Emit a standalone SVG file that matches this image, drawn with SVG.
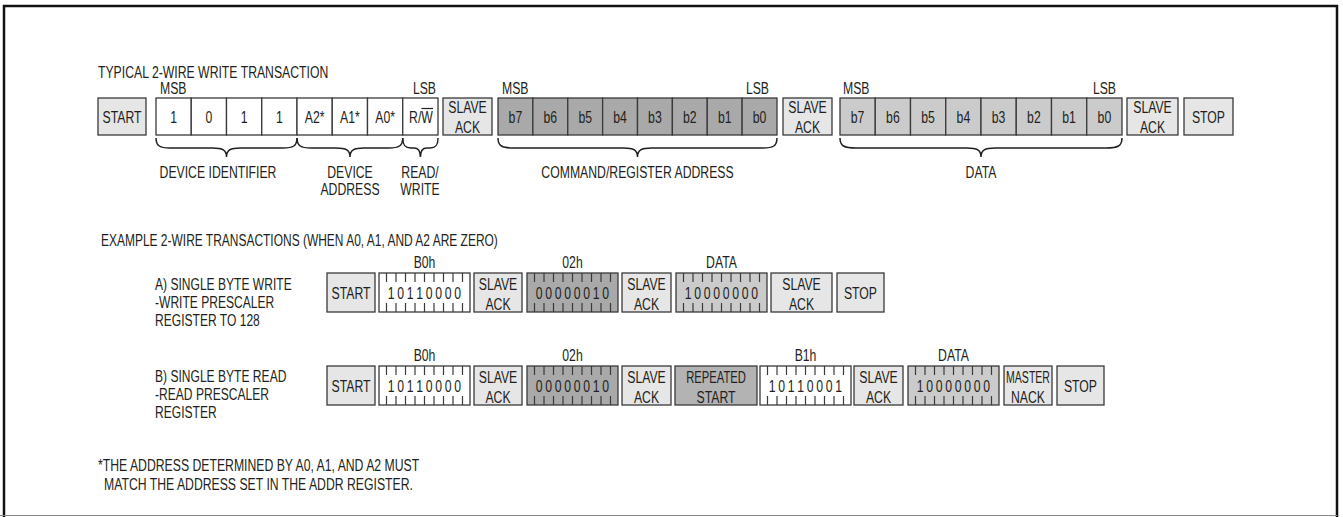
<svg xmlns="http://www.w3.org/2000/svg" xmlns:xlink="http://www.w3.org/1999/xlink" width="1343" height="517" viewBox="0 0 1343 517">
<style>
text{font-family:"Liberation Sans",Arial,sans-serif;font-size:17px;fill:#231f20}
.m{text-anchor:middle}
.e{text-anchor:end}
.b{stroke:#3a3a3a;stroke-width:1.3}
.lt{fill:#e6e6e6}
.wh{fill:#ffffff}
.dk{fill:#a9a9a9}
.md{fill:#cbcbcb}
.rp{fill:#b3b3b3}
.br{fill:none;stroke:#231f20;stroke-width:1.5}
.tk{fill:none;stroke:#3a3a3a;stroke-width:1.2}
</style>
<defs>
<path id="ticks" class="tk" d="M7.5 0v9M17 0v9M26.5 0v9M36 0v9M45.5 0v9M55 0v9M64.5 0v9M74 0v9M83.5 0v9M7.5 39v-9M17 39v-9M26.5 39v-9M36 39v-9M45.5 39v-9M55 39v-9M64.5 39v-9M74 39v-9M83.5 39v-9"/>
</defs>
<rect x="0" y="0" width="1343" height="517" fill="#ffffff"/>
<path d="M4 517V6H1337V517" fill="none" stroke="#111" stroke-width="2.5"/>
<line x1="0" y1="515.5" x2="1337" y2="515.5" stroke="#888" stroke-width="1"/>

<g id="titles">
<text transform="translate(98,78) scale(0.72,1)">TYPICAL 2-WIRE WRITE TRANSACTION</text>
<text transform="translate(101,246) scale(0.705,1)">EXAMPLE 2-WIRE TRANSACTIONS (WHEN A0, A1, AND A2 ARE ZERO)</text>
<text transform="translate(98,471) scale(0.72,1)">*THE ADDRESS DETERMINED BY A0, A1, AND A2 MUST</text>
<text transform="translate(104,490) scale(0.72,1)">MATCH THE ADDRESS SET IN THE ADDR REGISTER.</text>
</g>

<!-- Typical write transaction -->
<g id="t-start">
<rect class="b lt" x="98" y="98" width="48" height="37"/>
<text class="m" transform="translate(122,122.5) scale(0.72,1)">START</text>
</g>
<g id="t-devid">
<rect class="b wh" x="156" y="98" width="35.25" height="37"/>
<rect class="b wh" x="191.25" y="98" width="35.25" height="37"/>
<rect class="b wh" x="226.5" y="98" width="35.25" height="37"/>
<rect class="b wh" x="261.75" y="98" width="35.25" height="37"/>
<text transform="translate(160,94) scale(0.72,1)">MSB</text>
<text class="m" transform="translate(173.6,122.5) scale(0.72,1)">1</text>
<text class="m" transform="translate(208.9,122.5) scale(0.72,1)">0</text>
<text class="m" transform="translate(244.1,122.5) scale(0.72,1)">1</text>
<text class="m" transform="translate(279.4,122.5) scale(0.72,1)">1</text>
<text class="m" transform="translate(218,178) scale(0.72,1)">DEVICE IDENTIFIER</text>
</g>
<g id="t-devaddr">
<rect class="b wh" x="297" y="98" width="35.25" height="37"/>
<rect class="b wh" x="332.25" y="98" width="35.25" height="37"/>
<rect class="b wh" x="367.5" y="98" width="35.25" height="37"/>
<text class="m" transform="translate(314.6,122.5) scale(0.72,1)">A2*</text>
<text class="m" transform="translate(349.9,122.5) scale(0.72,1)">A1*</text>
<text class="m" transform="translate(385.1,122.5) scale(0.72,1)">A0*</text>
<text class="m" transform="translate(350,178) scale(0.72,1)">DEVICE</text>
<text class="m" transform="translate(350,195) scale(0.72,1)">ADDRESS</text>
</g>
<g id="t-rw">
<rect class="b wh" x="402.75" y="98" width="35.25" height="37"/>
<text class="e" transform="translate(436,94) scale(0.72,1)">LSB</text>
<text class="m" transform="translate(421,122.5) scale(0.72,1)">R/W</text>
<line x1="421.5" y1="108.5" x2="433" y2="108.5" stroke="#231f20" stroke-width="1.2"/>
<text class="m" transform="translate(420,178) scale(0.72,1)">READ/</text>
<text class="m" transform="translate(420,195) scale(0.72,1)">WRITE</text>
</g>
<g id="t-ack1">
<rect class="b lt" x="443" y="98" width="49" height="37"/>
<text class="m" transform="translate(467.5,113) scale(0.72,1)">SLAVE</text>
<text class="m" transform="translate(467.5,133) scale(0.72,1)">ACK</text>
</g>
<g id="t-cmd">
<rect class="b dk" x="498" y="98" width="34.875" height="37"/>
<rect class="b dk" x="532.875" y="98" width="34.875" height="37"/>
<rect class="b dk" x="567.75" y="98" width="34.875" height="37"/>
<rect class="b dk" x="602.625" y="98" width="34.875" height="37"/>
<rect class="b dk" x="637.5" y="98" width="34.875" height="37"/>
<rect class="b dk" x="672.375" y="98" width="34.875" height="37"/>
<rect class="b dk" x="707.25" y="98" width="34.875" height="37"/>
<rect class="b dk" x="742.125" y="98" width="34.875" height="37"/>
<text transform="translate(502,94) scale(0.72,1)">MSB</text>
<text class="e" transform="translate(769,94) scale(0.72,1)">LSB</text>
<text class="m" transform="translate(515.4,122.5) scale(0.72,1)">b7</text>
<text class="m" transform="translate(550.3,122.5) scale(0.72,1)">b6</text>
<text class="m" transform="translate(585.2,122.5) scale(0.72,1)">b5</text>
<text class="m" transform="translate(620.1,122.5) scale(0.72,1)">b4</text>
<text class="m" transform="translate(654.9,122.5) scale(0.72,1)">b3</text>
<text class="m" transform="translate(689.8,122.5) scale(0.72,1)">b2</text>
<text class="m" transform="translate(724.7,122.5) scale(0.72,1)">b1</text>
<text class="m" transform="translate(759.6,122.5) scale(0.72,1)">b0</text>
<text class="m" transform="translate(637.5,178) scale(0.72,1)">COMMAND/REGISTER ADDRESS</text>
</g>
<g id="t-ack2">
<rect class="b lt" x="783" y="98" width="49" height="37"/>
<text class="m" transform="translate(807.5,113) scale(0.72,1)">SLAVE</text>
<text class="m" transform="translate(807.5,133) scale(0.72,1)">ACK</text>
</g>
<g id="t-data">
<rect class="b md" x="840" y="98" width="35.25" height="37"/>
<rect class="b md" x="875.25" y="98" width="35.25" height="37"/>
<rect class="b md" x="910.5" y="98" width="35.25" height="37"/>
<rect class="b md" x="945.75" y="98" width="35.25" height="37"/>
<rect class="b md" x="981" y="98" width="35.25" height="37"/>
<rect class="b md" x="1016.25" y="98" width="35.25" height="37"/>
<rect class="b md" x="1051.5" y="98" width="35.25" height="37"/>
<rect class="b md" x="1086.75" y="98" width="35.25" height="37"/>
<text transform="translate(843,94) scale(0.72,1)">MSB</text>
<text class="e" transform="translate(1116,94) scale(0.72,1)">LSB</text>
<text class="m" transform="translate(857.6,122.5) scale(0.72,1)">b7</text>
<text class="m" transform="translate(892.9,122.5) scale(0.72,1)">b6</text>
<text class="m" transform="translate(928.1,122.5) scale(0.72,1)">b5</text>
<text class="m" transform="translate(963.4,122.5) scale(0.72,1)">b4</text>
<text class="m" transform="translate(998.6,122.5) scale(0.72,1)">b3</text>
<text class="m" transform="translate(1033.9,122.5) scale(0.72,1)">b2</text>
<text class="m" transform="translate(1069.1,122.5) scale(0.72,1)">b1</text>
<text class="m" transform="translate(1104.4,122.5) scale(0.72,1)">b0</text>
<text class="m" transform="translate(981,178) scale(0.72,1)">DATA</text>
</g>
<g id="t-ack3">
<rect class="b lt" x="1127" y="98" width="51" height="37"/>
<text class="m" transform="translate(1152.5,113) scale(0.72,1)">SLAVE</text>
<text class="m" transform="translate(1152.5,133) scale(0.72,1)">ACK</text>
</g>
<g id="t-stop">
<rect class="b lt" x="1184" y="98" width="49" height="37"/>
<text class="m" transform="translate(1208.5,122.5) scale(0.72,1)">STOP</text>
</g>

<g id="braces">
<path class="br" d="M156 138C156 146 160 148 170 148L212.5 148C222.5 148 226.5 150 226.5 157C226.5 150 230.5 148 240.5 148L283 148C293 148 297 146 297 138"/>
<path class="br" d="M297 138C297 146 301 148 311 148L336 148C346 148 350 150 350 157C350 150 354 148 364 148L388.75 148C398.75 148 402.75 146 402.75 138"/>
<path class="br" d="M402.75 138C402.75 145 405 148 411 148L414 148C418 148 420.4 150 420.4 157C420.4 150 422.8 148 426.8 148L430 148C436 148 438 145 438 138"/>
<path class="br" d="M498 138C498 146 502 148 514 148L623.5 148C633.5 148 637.5 150 637.5 157C637.5 150 641.5 148 651.5 148L763 148C773 148 777 146 777 138"/>
<path class="br" d="M840 138C840 146 844 148 856 148L967 148C977 148 981 150 981 157C981 150 985 148 995 148L1106 148C1118 148 1122 146 1122 138"/>
</g>

<!-- Example A -->
<g id="a-label">
<text transform="translate(155,290) scale(0.71,1)">A) SINGLE BYTE WRITE</text>
<text transform="translate(155,308) scale(0.71,1)">-WRITE PRESCALER</text>
<text transform="translate(155,326) scale(0.71,1)">REGISTER TO 128</text>
</g>
<g id="a-start">
<rect class="b lt" x="327" y="273" width="48" height="39"/>
<text class="m" transform="translate(351,298.5) scale(0.72,1)">START</text>
</g>
<g id="a-b0h">
<rect class="b wh" x="379" y="273" width="91" height="39"/>
<use xlink:href="#ticks" x="379" y="273"/>
<text class="m" transform="translate(424.5,268) scale(0.72,1)">B0h</text>
<text class="m" transform="translate(424.5,298.5) scale(0.72,1)"><tspan x="-46.18 -32.99 -19.79 -6.6 6.6 19.79 32.99 46.18">10110000</tspan></text>
</g>
<g id="a-ack1">
<rect class="b lt" x="474" y="273" width="48" height="39"/>
<text class="m" transform="translate(498,290) scale(0.72,1)">SLAVE</text>
<text class="m" transform="translate(498,310) scale(0.72,1)">ACK</text>
</g>
<g id="a-02h">
<rect class="b dk" x="527" y="273" width="91" height="39"/>
<use xlink:href="#ticks" x="527" y="273"/>
<text class="m" transform="translate(572.5,268) scale(0.72,1)">02h</text>
<text class="m" transform="translate(572.5,298.5) scale(0.72,1)"><tspan x="-46.18 -32.99 -19.79 -6.6 6.6 19.79 32.99 46.18">00000010</tspan></text>
</g>
<g id="a-ack2">
<rect class="b lt" x="622" y="273" width="49" height="39"/>
<text class="m" transform="translate(646.5,290) scale(0.72,1)">SLAVE</text>
<text class="m" transform="translate(646.5,310) scale(0.72,1)">ACK</text>
</g>
<g id="a-data">
<rect class="b md" x="676" y="273" width="91" height="39"/>
<use xlink:href="#ticks" x="676" y="273"/>
<text class="m" transform="translate(721.5,268) scale(0.72,1)">DATA</text>
<text class="m" transform="translate(721.5,298.5) scale(0.72,1)"><tspan x="-46.18 -32.99 -19.79 -6.6 6.6 19.79 32.99 46.18">10000000</tspan></text>
</g>
<g id="a-ack3">
<rect class="b lt" x="771" y="273" width="61" height="39"/>
<text class="m" transform="translate(801.5,290) scale(0.72,1)">SLAVE</text>
<text class="m" transform="translate(801.5,310) scale(0.72,1)">ACK</text>
</g>
<g id="a-stop">
<rect class="b lt" x="837" y="273" width="47" height="39"/>
<text class="m" transform="translate(860.5,298.5) scale(0.72,1)">STOP</text>
</g>

<!-- Example B -->
<g id="b-label">
<text transform="translate(155,382) scale(0.71,1)">B) SINGLE BYTE READ</text>
<text transform="translate(155,400) scale(0.71,1)">-READ PRESCALER</text>
<text transform="translate(155,418) scale(0.71,1)">REGISTER</text>
</g>
<g id="b-start">
<rect class="b lt" x="327" y="366" width="48" height="39"/>
<text class="m" transform="translate(351,391.5) scale(0.72,1)">START</text>
</g>
<g id="b-b0h">
<rect class="b wh" x="379" y="366" width="91" height="39"/>
<use xlink:href="#ticks" x="379" y="366"/>
<text class="m" transform="translate(424.5,361) scale(0.72,1)">B0h</text>
<text class="m" transform="translate(424.5,391.5) scale(0.72,1)"><tspan x="-46.18 -32.99 -19.79 -6.6 6.6 19.79 32.99 46.18">10110000</tspan></text>
</g>
<g id="b-ack1">
<rect class="b lt" x="474" y="366" width="48" height="39"/>
<text class="m" transform="translate(498,383) scale(0.72,1)">SLAVE</text>
<text class="m" transform="translate(498,403) scale(0.72,1)">ACK</text>
</g>
<g id="b-02h">
<rect class="b dk" x="527" y="366" width="91" height="39"/>
<use xlink:href="#ticks" x="527" y="366"/>
<text class="m" transform="translate(572.5,361) scale(0.72,1)">02h</text>
<text class="m" transform="translate(572.5,391.5) scale(0.72,1)"><tspan x="-46.18 -32.99 -19.79 -6.6 6.6 19.79 32.99 46.18">00000010</tspan></text>
</g>
<g id="b-ack2">
<rect class="b lt" x="622" y="366" width="49" height="39"/>
<text class="m" transform="translate(646.5,383) scale(0.72,1)">SLAVE</text>
<text class="m" transform="translate(646.5,403) scale(0.72,1)">ACK</text>
</g>
<g id="b-rstart">
<rect class="b rp" x="675" y="366" width="82" height="39"/>
<text class="m" transform="translate(716,383) scale(0.66,1)">REPEATED</text>
<text class="m" transform="translate(716,403) scale(0.72,1)">START</text>
</g>
<g id="b-b1h">
<rect class="b wh" x="760" y="366" width="91" height="39"/>
<use xlink:href="#ticks" x="760" y="366"/>
<text class="m" transform="translate(805.5,361) scale(0.72,1)">B1h</text>
<text class="m" transform="translate(805.5,391.5) scale(0.72,1)"><tspan x="-46.18 -32.99 -19.79 -6.6 6.6 19.79 32.99 46.18">10110001</tspan></text>
</g>
<g id="b-ack3">
<rect class="b lt" x="854" y="366" width="49" height="39"/>
<text class="m" transform="translate(878.5,383) scale(0.72,1)">SLAVE</text>
<text class="m" transform="translate(878.5,403) scale(0.72,1)">ACK</text>
</g>
<g id="b-data">
<rect class="b md" x="908" y="366" width="91" height="39"/>
<use xlink:href="#ticks" x="908" y="366"/>
<text class="m" transform="translate(953.5,361) scale(0.72,1)">DATA</text>
<text class="m" transform="translate(953.5,391.5) scale(0.72,1)"><tspan x="-46.18 -32.99 -19.79 -6.6 6.6 19.79 32.99 46.18">10000000</tspan></text>
</g>
<g id="b-mnack">
<rect class="b lt" x="1004" y="366" width="48" height="39"/>
<text class="m" transform="translate(1028,383) scale(0.62,1)">MASTER</text>
<text class="m" transform="translate(1028,403) scale(0.72,1)">NACK</text>
</g>
<g id="b-stop">
<rect class="b lt" x="1057" y="366" width="47" height="39"/>
<text class="m" transform="translate(1080.5,391.5) scale(0.72,1)">STOP</text>
</g>
</svg>
